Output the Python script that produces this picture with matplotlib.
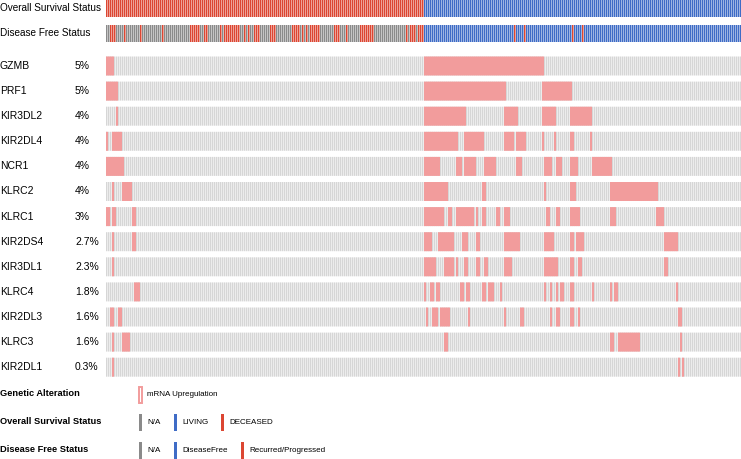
import matplotlib.pyplot as plt
from matplotlib.patches import Rectangle

plt.rcParams['font.family'] = ['Liberation Sans', 'DejaVu Sans']

# Gene-Zeilen und Anteil veränderter Proben
genes = ['GZMB', 'PRF1', 'KIR3DL2', 'KIR2DL4', 'NCR1', 'KLRC2', 'KLRC1',
         'KIR2DS4', 'KIR3DL1', 'KLRC4', 'KIR2DL3', 'KLRC3', 'KIR2DL1']
percents = ['5%', '5%', '4%', '4%', '4%', '4%', '3%', '2.7%', '2.3%',
            '1.8%', '1.6%', '1.6%', '0.3%']

# Veränderte Proben (mRNA Upregulation) als Bereiche von Spaltenindizes (inklusive)
altered = {
    'GZMB': [(0, 3), (159, 218)],
    'PRF1': [(0, 5), (159, 199), (218, 232)],
    'KIR3DL2': [(5, 5), (159, 179), (199, 205), (218, 224), (232, 242)],
    'KIR2DL4': [(0, 0), (3, 7), (159, 175), (179, 188), (199, 203), (205, 209),
                (218, 218), (224, 224), (232, 233), (242, 242)],
    'NCR1': [(0, 8), (159, 166), (175, 177), (179, 184), (189, 194), (205, 207),
             (219, 222), (225, 227), (232, 235), (243, 252)],
    'KLRC2': [(3, 3), (8, 12), (159, 166), (167, 170), (188, 189), (219, 219),
              (232, 234), (252, 275)],
    'KLRC1': [(0, 1), (3, 4), (13, 14), (159, 165), (166, 168), (171, 172),
              (175, 183), (185, 185), (188, 189), (195, 196), (199, 201),
              (220, 221), (225, 226), (232, 236), (252, 254), (275, 278)],
    'KIR2DS4': [(3, 3), (13, 14), (159, 162), (166, 168), (169, 173), (178, 180),
                (185, 186), (199, 201), (202, 204), (205, 206), (219, 223),
                (232, 233), (235, 238), (279, 285)],
    'KIR3DL1': [(3, 3), (159, 164), (169, 173), (175, 175), (179, 180), (185, 186),
                (189, 190), (199, 202), (219, 225), (232, 233), (236, 237),
                (279, 280)],
    'KLRC4': [(14, 16), (159, 159), (162, 163), (165, 166), (177, 178), (180, 181),
              (188, 189), (191, 193), (197, 197), (219, 219), (222, 222),
              (225, 225), (227, 228), (232, 233), (243, 243), (252, 252),
              (254, 255), (285, 285)],
    'KIR2DL3': [(2, 3), (6, 7), (160, 160), (163, 165), (167, 171), (181, 181),
                (199, 199), (207, 208), (222, 222), (225, 226), (232, 233),
                (236, 236), (286, 287)],
    'KLRC3': [(3, 3), (8, 11), (169, 170), (252, 253), (256, 266), (287, 287)],
    'KIR2DL1': [(3, 3), (286, 286), (288, 288)],
}

n_samples = 318
n_deceased = 159

# Disease Free Status der verstorbenen Proben als Lauflängen (N = N/A, R = Recurred)
dfs_runs = [('N', 2), ('R', 3), ('N', 4), ('R', 1), ('N', 7), ('R', 1), ('N', 10),
            ('R', 1), ('N', 13), ('R', 5), ('N', 2), ('R', 2), ('N', 6), ('R', 1),
            ('N', 1), ('R', 8), ('N', 2), ('R', 1), ('N', 1), ('R', 1), ('N', 2),
            ('R', 3), ('N', 5), ('R', 3), ('N', 8), ('R', 4), ('N', 1), ('R', 1),
            ('N', 1), ('R', 1), ('N', 1), ('R', 5), ('N', 7), ('R', 3), ('N', 3),
            ('R', 1), ('N', 6), ('R', 7), ('N', 16), ('R', 1), ('N', 1), ('R', 3),
            ('N', 1), ('R', 3)]
dfs_recurred_living = [204, 209, 233, 238]

col_red = '#dc4632'
col_blue = '#3f6cc6'
col_gray = '#8a8a8a'
col_pink = '#f29c9c'
col_bg = '#d6d6d6'

W, H = 741, 459
fig = plt.figure(figsize=(W / 100, H / 100), dpi=100)

# Raster der Proben
x0 = 106
ax = fig.add_axes([x0 / W, 0, (W - x0) / W, 1])
ax.set_xlim(0, (W - x0) / 2)
ax.set_ylim(H, 0)
ax.axis('off')

cols = list(range(n_samples))

# Overall Survival Status
os_colors = [col_red if c < n_deceased else col_blue for c in cols]
ax.bar(cols, 17, bottom=0, width=0.75, align='edge', color=os_colors,
       linewidth=0, snap=False)

# Disease Free Status
dfs_codes = []
for code, length in dfs_runs:
    dfs_codes += [code] * length
dfs_colors = []
for c in cols:
    if c < len(dfs_codes):
        dfs_colors.append(col_gray if dfs_codes[c] == 'N' else col_red)
    else:
        dfs_colors.append(col_red if c in dfs_recurred_living else col_blue)
ax.bar(cols, 17, bottom=25, width=0.75, align='edge', color=dfs_colors,
       linewidth=0, snap=False)

row_top0 = 56.5
row_pitch = 25.1
row_h = 19

for i, gene in enumerate(genes):
    top = row_top0 + i * row_pitch
    ax.bar(cols, row_h, bottom=top, width=0.72, align='edge', color=col_bg,
           linewidth=0, snap=False)
    for a, b in altered[gene]:
        ax.bar(a, row_h, bottom=top, width=b - a + 1, align='edge',
               color=col_pink, linewidth=0, snap=False)
    fig.text(0, 1 - (top + row_h / 2) / H, gene, fontsize=7.5, va='center', ha='left')
    fig.text(75 / W, 1 - (top + row_h / 2) / H, percents[i], fontsize=7.5,
             va='center', ha='left')

fig.text(0, 1 - 8 / H, 'Overall Survival Status', fontsize=7.2, va='center')
fig.text(0, 1 - 33.5 / H, 'Disease Free Status', fontsize=7.2, va='center')

# Legende
lg = fig.add_axes([0, 0, 1, 1])
lg.set_xlim(0, W)
lg.set_ylim(H, 0)
lg.axis('off')

lg.text(0, 393, 'Genetic Alteration', fontsize=6.7, fontweight='bold', va='center')
lg.text(0, 421, 'Overall Survival Status', fontsize=6.7, fontweight='bold', va='center')
lg.text(0, 449, 'Disease Free Status', fontsize=6.7, fontweight='bold', va='center')

lg.add_patch(Rectangle((139, 386.5), 3, 16, facecolor='white', edgecolor=col_pink, linewidth=1.4))
lg.text(147, 394.5, 'mRNA Upregulation', fontsize=5.8, va='center')

os_legend = [(139, col_gray, 'N/A'), (174, col_blue, 'LIVING'), (221, col_red, 'DECEASED')]
for x, c, t in os_legend:
    lg.add_patch(Rectangle((x, 414), 3, 17, facecolor=c, linewidth=0))
    lg.text(x + 8, 423, t, fontsize=5.8, va='center')

dfs_legend = [(139, col_gray, 'N/A'), (174, col_blue, 'DiseaseFree'),
              (241, col_red, 'Recurred/Progressed')]
for x, c, t in dfs_legend:
    lg.add_patch(Rectangle((x, 442), 3, 17, facecolor=c, linewidth=0))
    lg.text(x + 8, 451, t, fontsize=5.8, va='center')

plt.savefig('out.png', dpi=100)
